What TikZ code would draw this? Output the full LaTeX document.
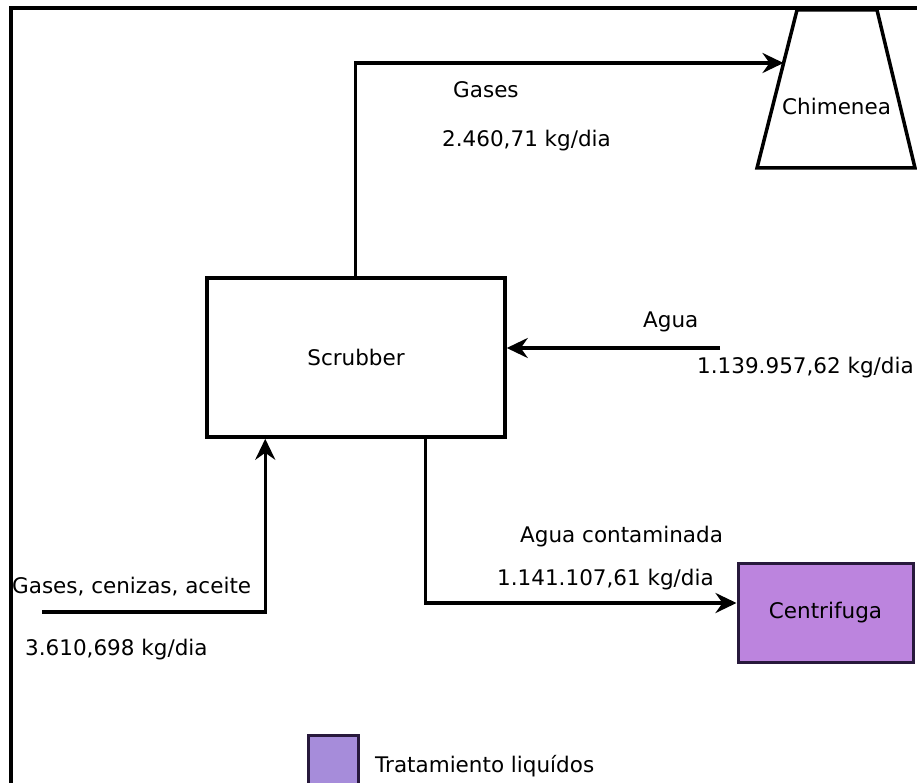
\documentclass[tikz,border=0pt]{standalone}
\usepackage{fontspec}
\setmainfont{DejaVu Sans}
\usetikzlibrary{arrows.meta,calc}
\definecolor{centfill}{RGB}{188,132,222}
\definecolor{legfill}{RGB}{166,140,218}
\definecolor{boxedge}{RGB}{40,25,60}
\tikzset{
  lbl/.style={anchor=base west, inner sep=0pt, font=\fontsize{21.5}{24}\selectfont},
  flow/.style={line width=3.5pt, -{Stealth[length=21pt,width=20pt,inset=7pt]}},
  blockbox/.style={draw, line width=3.5pt, inner sep=0pt, font=\fontsize{21.5}{24}\selectfont},
}
\begin{document}
\begin{tikzpicture}[x=1pt,y=-1pt]
\useasboundingbox (0,0) rectangle (917,783);

% outer frame (left and top edges)
\draw[line width=4pt] (10.5,783) -- (10.5,8.5) -- (917,8.5);

% process blocks
\node[blockbox, minimum width=298pt, minimum height=159pt] (scrub) at (356,357.5) {Scrubber};
\node[blockbox, draw=boxedge, line width=3pt, fill=centfill,
      minimum width=175pt, minimum height=99pt] (centr) at (825.5,612.5) {Centrifuga};

% chimney
\draw[line width=3.5pt, line join=miter] (797,10) -- (877,10) -- (915,168) -- (757,168) -- cycle;
\node[lbl] (chimtxt) at (782,115) {Chimenea};
\coordinate (chimIn) at (783.5,63);

% free ends of the streams
\coordinate (aguaSrc) at (720,348);
\coordinate (feedSrc) at (42,612);

% streams
\draw[flow] ([xshift=150pt]scrub.north west) |- (chimIn);
\draw[flow] (aguaSrc) -- (aguaSrc -| scrub.east);
\draw[flow] (feedSrc) -| ([xshift=60pt]scrub.south west);
\draw[flow] ([xshift=220pt]scrub.south west) |- ([yshift=9.5pt]centr.west);

% stream labels
\node[lbl] (gasName) at (453,98) {Gases};
\node[lbl] (gasRate) at (442,147) {2.460,71 kg/dia};
\node[lbl] (aguaName) at (643,327) {Agua};
\node[lbl] (aguaRate) at (697,373) {1.139.957,62 kg/dia};
\node[lbl] (contName) at (520,542) {Agua contaminada};
\node[lbl] (contRate) at (497,585) {1.141.107,61 kg/dia};
\node[lbl] (feedName) at (12,593) {Gases, cenizas, aceite};
\node[lbl] (feedRate) at (25,655) {3.610,698 kg/dia};

% legend
\node[draw=boxedge, line width=3pt, fill=legfill, minimum size=50pt, inner sep=0pt] (legbox) at (333.5,760) {};
\node[lbl] (legtxt) at (375,772) {Tratamiento liquídos};
\end{tikzpicture}
\end{document}
